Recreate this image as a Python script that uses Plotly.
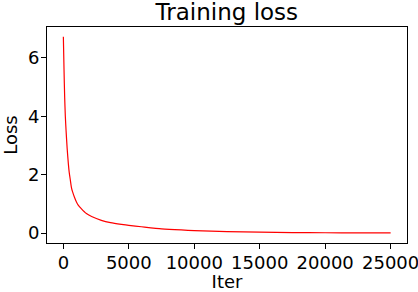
import plotly.graph_objects as go

iters = [0, 50, 100, 150, 205, 290, 380, 450, 535, 610, 700, 840, 1000, 1120, 1350, 1760, 2200, 2900,
         3600, 4430, 5000, 5960, 7500, 9000, 10000, 12500, 15000, 17500, 20000, 22500, 25000]
loss = [6.72, 5.60, 4.65, 4.00, 3.52, 2.90, 2.38, 2.07, 1.81, 1.58, 1.42, 1.24, 1.07, 0.97, 0.85, 0.67, 0.56, 0.44,
        0.36, 0.30, 0.265, 0.22, 0.15, 0.11, 0.09, 0.055, 0.035, 0.022, 0.015, 0.010, 0.008]

x_ticks = [0, 5000, 10000, 15000, 20000, 25000]
y_ticks = [0, 2, 4, 6]

font = "DejaVu Sans"

fig = go.Figure()
fig.add_trace(go.Scatter(x=iters, y=loss, mode="lines",
                         line=dict(color="#ff0000", width=1.2, shape="spline", smoothing=0.6),
                         showlegend=False))

axis_common = dict(showgrid=False, zeroline=False, showline=True, linecolor="black", linewidth=1,
                   mirror=True, ticks="outside", ticklen=5, tickwidth=1, tickcolor="black",
                   automargin=False, ticklabeloverflow="allow", ticklabelstandoff=-2,
                   tickfont=dict(family=font, size=18, color="black"))

fig.update_layout(
    width=418, height=292,
    margin=dict(l=47, r=11, t=27, b=49),
    paper_bgcolor="white", plot_bgcolor="white",
    title=dict(text="Training loss", x=0.5427, xanchor="center", xref="container",
               y=1 - 12 / 292, yanchor="middle", yref="container",
               font=dict(family=font, size=23, color="black")),
    xaxis=dict(range=[-1250, 26250], tickvals=x_ticks, ticktext=[str(v) for v in x_ticks],
               title=dict(text="Iter", font=dict(family=font, size=18, color="black"), standoff=8),
               **axis_common),
    yaxis=dict(range=[-0.336, 7.056], tickvals=y_ticks, ticktext=[str(v) for v in y_ticks],
               title=dict(text="Loss", font=dict(family=font, size=18, color="black"), standoff=10),
               **axis_common),
)

fig.write_html("out.html", config={"displayModeBar": False},
               post_script="document.body.style.margin='0';document.body.style.overflow='hidden';")
